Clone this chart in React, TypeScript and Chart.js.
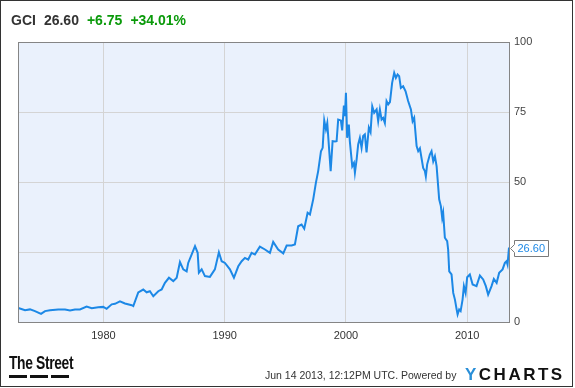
import React, { useEffect, useRef } from "react";
import { Chart, registerables } from "chart.js";

Chart.register(...registerables);

const ticker = "GCI";
const lastPrice = "26.60";
const change = "+6.75";
const changePct = "+34.01%";
const xTickYears = [1980, 1990, 2000, 2010];
const yTicks = [0, 25, 50, 75, 100];

const years = [
  1973.0, 1973.11, 1973.53, 1973.94, 1974.35, 1974.85, 1975.18, 1975.59, 1976.27, 1976.83,
  1977.24, 1977.65, 1978.06, 1978.61, 1979.03, 1979.57, 1979.98, 1980.26, 1980.68, 1980.95,
  1981.36, 1981.77, 1982.33, 1982.46, 1982.87, 1983.28, 1983.56, 1983.83, 1984.11, 1984.52,
  1984.8, 1985.07, 1985.4, 1985.76, 1986.04, 1986.31, 1986.58, 1986.86, 1986.99, 1987.27,
  1987.55, 1987.77, 1987.87, 1988.1, 1988.37, 1988.78, 1989.19, 1989.52, 1989.75, 1990.02,
  1990.43, 1990.76, 1991.12, 1991.4, 1991.67, 1991.94, 1992.22, 1992.49, 1992.9, 1993.32,
  1993.73, 1994.0, 1994.41, 1994.83, 1995.11, 1995.52, 1995.79, 1996.06, 1996.34, 1996.56,
  1996.84, 1997.03, 1997.3, 1997.52, 1997.71, 1997.94, 1998.08, 1998.21, 1998.35, 1998.46,
  1998.74, 1998.9, 1999.09, 1999.23, 1999.36, 1999.58, 1999.69, 1999.83, 1999.91, 2000.0,
  2000.1, 2000.24, 2000.32, 2000.52, 2000.66, 2000.74, 2000.88, 2001.01, 2001.15, 2001.29,
  2001.42, 2001.56, 2001.7, 2001.89, 2002.03, 2002.17, 2002.33, 2002.53, 2002.66, 2002.8,
  2002.94, 2003.07, 2003.21, 2003.35, 2003.49, 2003.63, 2003.81, 2003.98, 2004.12, 2004.26,
  2004.39, 2004.53, 2004.72, 2004.92, 2005.13, 2005.36, 2005.5, 2005.63, 2005.83, 2005.96,
  2006.1, 2006.37, 2006.51, 2006.59, 2006.7, 2006.92, 2007.06, 2007.2, 2007.34, 2007.48,
  2007.69, 2007.83, 2007.94, 2008.02, 2008.16, 2008.35, 2008.43, 2008.52, 2008.71, 2008.85,
  2008.99, 2009.13, 2009.21, 2009.34, 2009.46, 2009.62, 2009.73, 2009.87, 2010.0, 2010.22,
  2010.45, 2010.77, 2011.05, 2011.32, 2011.54, 2011.73, 2012.01, 2012.2, 2012.43, 2012.64,
  2012.92, 2013.11, 2013.25, 2013.33, 2013.45,
];

const prices = [
  5.0, 4.8, 4.2, 4.5, 3.9, 2.9, 3.9, 4.2, 4.5, 4.5,
  4.1, 4.5, 4.5, 5.5, 4.9, 5.3, 5.4, 4.7, 6.3, 6.5,
  7.4, 6.6, 6.0, 5.7, 10.6, 11.6, 10.6, 11.0, 9.2, 11.0,
  11.6, 14.0, 15.8, 14.6, 15.8, 21.4, 18.8, 18.1, 21.1, 24.1,
  27.1, 24.7, 17.6, 18.8, 16.4, 16.1, 18.8, 24.9, 21.7, 21.1,
  18.8, 15.8, 19.9, 21.7, 22.9, 22.3, 24.7, 24.1, 26.9, 25.9,
  24.7, 28.6, 25.9, 24.5, 27.3, 27.3, 27.7, 34.2, 34.8, 33.3,
  39.0, 38.4, 43.8, 49.7, 53.9, 61.0, 62.2, 72.0, 68.8, 71.1,
  53.9, 64.6, 64.5, 64.6, 72.3, 72.0, 68.4, 77.3, 73.5, 81.9,
  65.8, 70.5, 64.6, 55.6, 56.8, 53.3, 58.0, 63.4, 65.8, 62.2,
  66.4, 67.0, 60.6, 69.4, 67.8, 77.0, 74.7, 75.9, 71.7, 75.9,
  72.3, 72.9, 71.1, 78.9, 77.7, 78.5, 85.4, 89.0, 87.2, 88.4,
  87.8, 83.6, 84.2, 82.4, 78.9, 75.9, 71.7, 72.9, 62.8, 61.0,
  62.0, 55.0, 53.9, 52.0, 56.3, 59.8, 61.0, 57.4, 59.2, 55.6,
  43.8, 41.4, 37.2, 39.0, 30.1, 28.9, 25.9, 18.1, 17.0, 10.4,
  8.0, 4.5, 2.7, 4.5, 3.9, 8.0, 12.8, 10.4, 16.0, 17.0,
  13.4, 12.8, 16.6, 15.2, 12.8, 9.8, 12.8, 15.4, 14.0, 17.6,
  18.8, 21.1, 21.7, 20.5, 26.6,
];

const LINE = "#1c88e6";
const FONT = "'Liberation Sans', Arial, sans-serif";

export default function App() {
  const ref = useRef<HTMLCanvasElement | null>(null);

  useEffect(() => {
    const canvas = ref.current;
    if (!canvas) return;
    const last = prices[prices.length - 1];

    const framePlugin = {
      id: "frame",
      beforeDraw(chart: any) {
        const { ctx, chartArea: a } = chart;
        ctx.save();
        ctx.fillStyle = "#eaf1fc";
        ctx.fillRect(a.left, a.top, a.right - a.left, a.bottom - a.top);
        ctx.restore();
      },
      afterDraw(chart: any) {
        const { ctx, chartArea: a, scales } = chart;
        ctx.save();
        ctx.strokeStyle = "#858585";
        ctx.lineWidth = 1;
        ctx.strokeRect(Math.round(a.left) + 0.5, Math.round(a.top) + 0.5, Math.round(a.right - a.left), Math.round(a.bottom - a.top));
        const y = Math.round(scales.y.getPixelForValue(last)) + 0.5;
        const left = Math.round(a.right) + 5.5;
        const w = 34;
        const h = 16;
        const top = y - h / 2;
        ctx.beginPath();
        ctx.moveTo(left, top);
        ctx.lineTo(left + w, top);
        ctx.lineTo(left + w, top + h);
        ctx.lineTo(left, top + h);
        ctx.lineTo(left, y + 4);
        ctx.lineTo(left - 4, y);
        ctx.lineTo(left, y - 4);
        ctx.closePath();
        ctx.fillStyle = "#ffffff";
        ctx.fill();
        ctx.strokeStyle = "#7a7a7a";
        ctx.stroke();
        ctx.fillStyle = LINE;
        ctx.font = `11px ${FONT}`;
        ctx.textBaseline = "middle";
        ctx.textAlign = "left";
        ctx.fillText(last.toFixed(2), left + 3, y + 0.5);
        ctx.restore();
      },
    };

    const chart = new Chart(canvas, {
      type: "line",
      data: {
        datasets: [
          {
            data: years.map((x, i) => ({ x, y: prices[i] })),
            borderColor: LINE,
            borderWidth: 2,
            pointRadius: 0,
            tension: 0,
            fill: false,
          },
        ],
      },
      options: {
        animation: false,
        responsive: false,
        devicePixelRatio: 1,
        layout: { padding: { left: 18, top: 42, right: 0, bottom: 0 } },
        plugins: { legend: { display: false }, tooltip: { enabled: false } },
        scales: {
          x: {
            type: "linear",
            min: 1972.95,
            max: 2013.45,
            afterFit(scale: any) {
              scale.height = 66;
            },
            afterBuildTicks(scale: any) {
              scale.ticks = xTickYears.map((v) => ({ value: v }));
            },
            grid: { color: "#d4d4d4", drawTicks: false, lineWidth: 1 },
            border: { display: false },
            ticks: {
              padding: 7,
              color: "#333",
              font: { family: FONT, size: 11 },
              callback: (v: any) => String(v),
              maxRotation: 0,
            },
          },
          y: {
            position: "right",
            min: 0,
            max: 100,
            afterFit(scale: any) {
              scale.width = 66;
            },
            afterBuildTicks(scale: any) {
              scale.ticks = yTicks.map((v) => ({ value: v }));
            },
            grid: { color: "#d4d4d4", drawTicks: false, lineWidth: 1 },
            border: { display: false },
            ticks: {
              padding: 5,
              color: "#444",
              font: { family: FONT, size: 11 },
              callback: (v: any) => String(v),
            },
          },
        },
      },
      plugins: [framePlugin],
    });
    return () => chart.destroy();
  }, []);

  return (
    <div style={{ position: "fixed", left: 0, top: 0, width: 575, height: 388, background: "#fff", fontFamily: FONT }}>
      <canvas ref={ref} width={575} height={388} style={{ position: "absolute", left: 0, top: 0 }} />
      <div style={{ position: "absolute", left: 0, top: 0, width: 571, height: 385, border: "1px solid #333", pointerEvents: "none" }} />
      <div style={{ position: "absolute", left: 11, top: 10, fontSize: 14, fontWeight: "bold", lineHeight: "20px", whiteSpace: "nowrap" }}>
        <span style={{ color: "#333" }}>{ticker}</span>
        <span style={{ color: "#333", marginLeft: 8 }}>{lastPrice}</span>
        <span style={{ color: "#0a9a0a", marginLeft: 8 }}>{change}</span>
        <span style={{ color: "#0a9a0a", marginLeft: 8 }}>{changePct}</span>
      </div>
      <div style={{ position: "absolute", left: 9, top: 353, fontSize: 19, fontWeight: "bold", color: "#111", lineHeight: "20px", transform: "scaleX(0.73)", transformOrigin: "left top", whiteSpace: "nowrap", letterSpacing: -0.5 }}>
        The Street
      </div>
      <div style={{ position: "absolute", left: 9, top: 375, width: 18, height: 3, background: "#111" }} />
      <div style={{ position: "absolute", left: 30, top: 375, width: 18, height: 3, background: "#111" }} />
      <div style={{ position: "absolute", left: 51, top: 375, width: 18, height: 3, background: "#111" }} />
      <div style={{ position: "absolute", left: 265, top: 367, fontSize: 10.5, color: "#333", lineHeight: "16px", whiteSpace: "nowrap" }}>
        Jun 14 2013, 12:12PM UTC. Powered by
      </div>
      <div style={{ position: "absolute", left: 465, top: 365, fontSize: 17, fontWeight: "bold", lineHeight: "20px", letterSpacing: 2.5, whiteSpace: "nowrap" }}>
        <span style={{ color: "#2a8fd8" }}>Y</span>
        <span style={{ color: "#111" }}>CHARTS</span>
      </div>
    </div>
  );
}
